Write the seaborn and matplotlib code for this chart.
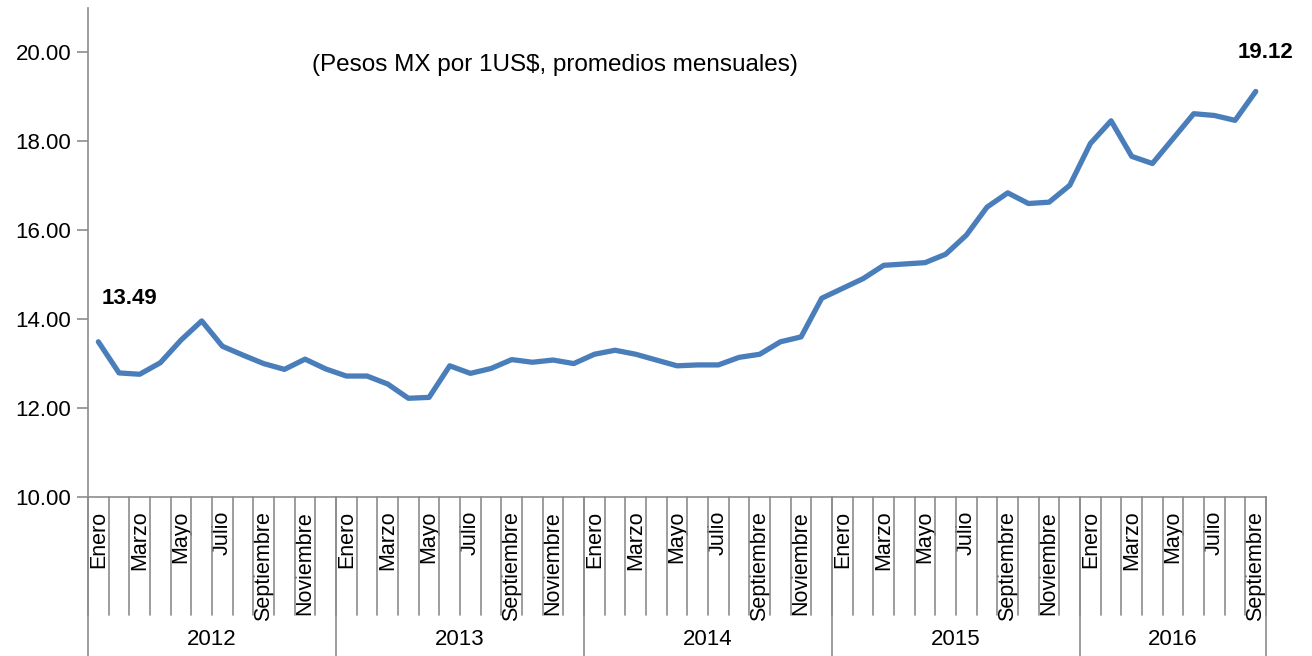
import numpy as np
import pandas as pd
import seaborn as sn
import matplotlib.pyplot as plt
from matplotlib import font_manager

# datos: tipo de cambio promedio mensual
anios = ["2012", "2013", "2014", "2015", "2016"]
meses = ["Enero", "Febrero", "Marzo", "Abril", "Mayo", "Junio", "Julio",
         "Agosto", "Septiembre", "Octubre", "Noviembre", "Diciembre"]
meses_por_anio = [12, 12, 12, 12, 9]

tc_2012 = [13.49, 12.79, 12.76, 13.02, 13.53, 13.96, 13.39, 13.19, 13.00, 12.87, 13.10, 12.88]
tc_2013 = [12.72, 12.72, 12.54, 12.22, 12.24, 12.95, 12.78, 12.89, 13.09, 13.03, 13.08, 13.00]
tc_2014 = [13.21, 13.30, 13.21, 13.08, 12.95, 12.97, 12.97, 13.14, 13.21, 13.49, 13.60, 14.47]
tc_2015 = [14.69, 14.91, 15.21, 15.24, 15.27, 15.46, 15.89, 16.52, 16.84, 16.60, 16.63, 17.01]
tc_2016 = [17.95, 18.46, 17.66, 17.50, 18.06, 18.62, 18.58, 18.47, 19.12]

valores = tc_2012 + tc_2013 + tc_2014 + tc_2015 + tc_2016
df = pd.DataFrame({"idx": np.arange(len(valores)), "tc": valores})

sn.set_style("white")
nombres = set(f.name for f in font_manager.fontManager.ttflist)
fuente = [c for c in ["Liberation Sans Narrow", "Arial Narrow", "Liberation Sans"] if c in nombres][0]
plt.rcParams['font.family'] = [fuente, 'DejaVu Sans']
plt.rcParams['text.color'] = 'black'
plt.rcParams['xtick.color'] = 'black'
plt.rcParams['ytick.color'] = 'black'

gris = '#8c8c8c'
azul = '#4a7ebb'
fs = 16

fig = plt.figure(figsize=(13.12, 6.56), dpi=100)
ax1 = fig.add_axes([0.0671, 0.2424, 0.8979, 0.7456])

sn.lineplot(data=df, x="idx", y="tc", ax=ax1, color=azul, linewidth=3.8)

n = len(valores)
ax1.set_xlim(-0.5, n - 0.5)
ax1.set_ylim(10, 21)
ax1.set_yticks(np.arange(10, 21, 2))
ax1.set_yticklabels(["%.2f" % v for v in np.arange(10, 21, 2)], fontsize=fs)
ax1.tick_params(axis='y', direction='out', length=8, width=1.2, color=gris, pad=4, left=True)

# etiquetas de mes: solo los meses impares
etiquetas = []
for k in meses_por_anio:
    for j in range(k):
        etiquetas.append(meses[j] if j % 2 == 0 else "")
ax1.set_xticks(np.arange(n))
ax1.set_xticklabels(etiquetas, rotation=90, fontsize=15.5)
ax1.tick_params(axis='x', length=0, pad=10)
ax1.set_xlabel("")
ax1.set_ylabel("")

for s in ['top', 'right']:
    ax1.spines[s].set_visible(False)
for s in ['left', 'bottom']:
    ax1.spines[s].set_color(gris)
    ax1.spines[s].set_linewidth(1.2)

trans = ax1.get_xaxis_transform()
# separadores de mes
for i in range(n + 1):
    ax1.plot([i - 0.5, i - 0.5], [0, -0.241], transform=trans, color=gris,
             lw=1.2, clip_on=False)
# separadores de anio y etiquetas
inicio = 0
for a, k in zip(anios, meses_por_anio):
    ax1.plot([inicio - 0.5, inicio - 0.5], [0, -0.33], transform=trans, color=gris,
             lw=1.2, clip_on=False)
    ax1.text(inicio + (k - 1) / 2, -0.292, a, transform=trans, ha='center',
             va='center', fontsize=fs)
    inicio += k
ax1.plot([n - 0.5, n - 0.5], [0, -0.33], transform=trans, color=gris,
         lw=1.2, clip_on=False)

# valores inicial y final
ax1.annotate("%.2f" % valores[0], (0, valores[0]), xytext=(2, 31),
             textcoords='offset points', ha='left', va='center',
             fontsize=fs, fontweight='bold')
ax1.annotate("%.2f" % valores[-1], (n - 1, valores[-1]), xytext=(7, 28),
             textcoords='offset points', ha='center', va='center',
             fontsize=fs, fontweight='bold')

ax1.text(0.396, 0.883, "(Pesos MX por 1US$, promedios mensuales)", transform=ax1.transAxes,
         ha='center', va='center', fontsize=17.5)

plt.savefig('out.png', dpi=100)
